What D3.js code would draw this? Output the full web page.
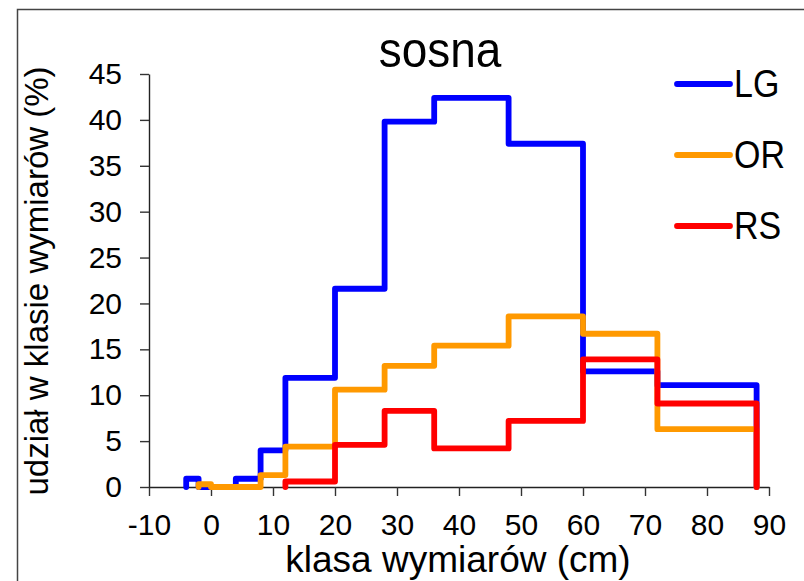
<!DOCTYPE html>
<html>
<head>
<meta charset="utf-8">
<script src="https://cdn.jsdelivr.net/npm/d3@7"></script>
<style>
  html, body { margin: 0; padding: 0; background: #fff; }
  svg { display: block; font-family: "Liberation Sans", Arial, sans-serif; }
</style>
</head>
<body>
<svg id="chart" width="804" height="581"></svg>
<script>
// Share of measurements per size class (%), pine stands
const seriesNames = ["LG", "OR", "RS"];
const seriesColors = ["#0000ff", "#ff9900", "#ff0000"];

// class boundaries (cm) and the share in each class
const edgesLG  = [-4, -2, 4, 8, 12, 20, 28, 36, 48, 60, 72, 88];
const valuesLG = [0.9, 0, 0.9, 4.0, 11.9, 21.6, 39.8, 42.4, 37.4, 12.6, 11.1];

const edgesOR  = [-2, 0, 8, 12, 20, 28, 36, 48, 60, 72, 88];
const valuesOR = [0.3, 0, 1.3, 4.4, 10.6, 13.2, 15.4, 18.6, 16.7, 6.3];

const edgesRS  = [12, 20, 28, 36, 48, 60, 72, 88];
const valuesRS = [0.6, 4.6, 8.3, 4.2, 7.2, 13.9, 9.1];

const xTicks = [-10, 0, 10, 20, 30, 40, 50, 60, 70, 80, 90];
const yTicks = [0, 5, 10, 15, 20, 25, 30, 35, 40, 45];

const titleText = "sosna";
const xTitle = "klasa wymiarów (cm)";
const yTitle = "udział w klasie wymiarów (%)";

const svg = d3.select("#chart");

// outer chart frame
svg.append("rect")
  .attr("x", 17.5).attr("y", 9.5)
  .attr("width", 820).attr("height", 600)
  .attr("fill", "none").attr("stroke", "#444").attr("stroke-width", 1.5);

const x = d3.scaleLinear().domain([-10, 90]).range([149, 769]);
const y = d3.scaleLinear().domain([0, 45]).range([487, 74]);

// axes
const gx = svg.append("g").attr("transform", `translate(0,${y(0)})`)
  .call(d3.axisBottom(x).tickValues(xTicks).tickSize(9).tickSizeOuter(0).tickPadding(18)
    .tickFormat(d3.format("d")));
const gy = svg.append("g").attr("transform", `translate(${x(-10)},0)`)
  .call(d3.axisLeft(y).tickValues(yTicks).tickSize(9).tickSizeOuter(0).tickPadding(18)
    .tickFormat(d3.format("d")));

[gx, gy].forEach(g => {
  g.select(".domain").attr("stroke", "#222").attr("stroke-width", 1.4);
  g.selectAll(".tick line").attr("stroke", "#333").attr("stroke-width", 1.4);
  g.selectAll(".tick text").attr("fill", "#000")
    .style("font-family", "'Liberation Sans', Arial, sans-serif")
    .style("font-size", "30px");
});
gx.selectAll(".tick text").text(d => d < 0 ? "-" + Math.abs(d) : d);

// step outlines
const line = d3.line().x(d => x(d[0])).y(d => y(d[1])).curve(d3.curveStepAfter);
function stepPoints(edges, values) {
  const pts = [[edges[0], 0]];
  values.forEach((v, i) => pts.push([edges[i], v]));
  pts.push([edges[edges.length - 1], 0]);
  return pts;
}
const series = [
  [edgesLG, valuesLG],
  [edgesOR, valuesOR],
  [edgesRS, valuesRS]
];
series.forEach(([e, v], i) => {
  svg.append("path")
    .attr("d", line(stepPoints(e, v)))
    .attr("fill", "none")
    .attr("stroke", seriesColors[i])
    .attr("stroke-width", 5.8)
    .attr("stroke-linejoin", "round")
    .attr("stroke-linecap", "round");
});

// title
svg.append("text")
  .attr("transform", "translate(440,67) scale(1,1.1)")
  .attr("text-anchor", "middle")
  .style("font-size", "46px")
  .text(titleText);

// axis titles
svg.append("text")
  .attr("x", 458).attr("y", 572)
  .attr("text-anchor", "middle")
  .style("font-size", "37px")
  .text(xTitle);
svg.append("text")
  .attr("transform", "translate(48,281) rotate(-90)")
  .attr("text-anchor", "middle")
  .style("font-size", "33px")
  .text(yTitle);

// legend
const legend = svg.append("g");
seriesNames.forEach((name, i) => {
  const ly = 84 + i * 71;
  legend.append("line")
    .attr("x1", 677).attr("x2", 730).attr("y1", ly).attr("y2", ly)
    .attr("stroke", seriesColors[i]).attr("stroke-width", 5.8)
    .attr("stroke-linecap", "round");
  legend.append("text")
    .attr("transform", `translate(734,${ly + 13}) scale(1,1.12)`)
    .style("font-size", "34px")
    .text(name);
});
</script>
</body>
</html>
